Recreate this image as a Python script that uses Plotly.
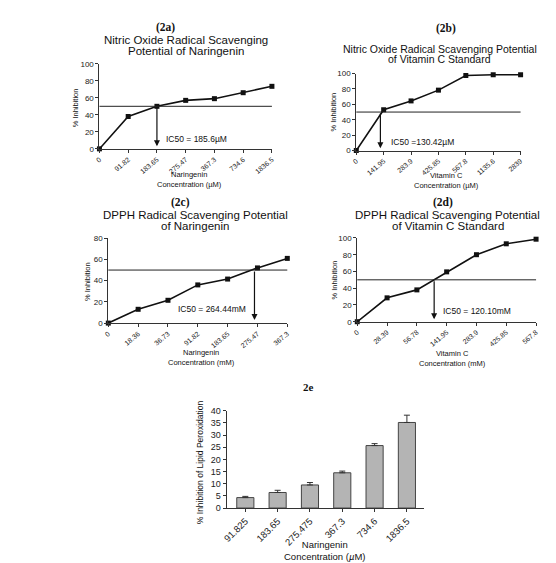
import plotly.graph_objects as go

W, H = 556, 563

# ---------------- data ----------------
no_nar_conc = ["0", "91.82", "183.65", "275.47", "367.3", "734.6", "1836.5"]
no_nar_inh = [0, 38, 50, 57, 59, 66, 73.5]

no_vitc_conc = ["0", "141.95", "283.9", "425.85", "567.8", "1135.6", "2839"]
no_vitc_inh = [0, 53, 64.5, 78.5, 97.5, 98.5, 98.5]

dpph_nar_conc = ["0", "18.36", "36.73", "91.82", "183.65", "275.47", "367.3"]
dpph_nar_inh = [0, 13, 21.5, 36, 41.5, 52, 61]

dpph_vitc_conc = ["0", "28.39", "56.78", "141.95", "283.9", "425.85", "567.8"]
dpph_vitc_inh = [0, 28.5, 38, 59.5, 80, 93, 98.5]

lpo_conc = ["91.825", "183.65", "275.475", "367.3", "734.6", "1836.5"]
lpo_inh = [4.3, 6.4, 9.5, 14.5, 25.7, 35.2]
lpo_err = [0.5, 0.9, 1.0, 0.7, 0.8, 3.0]

# IC50 arrow positions (category index) and labels
ic50_pos = [2.0, 0.88, 4.9, 2.58]
ic50_text = ["IC50 = 185.6µM", "IC50 =130.42µM", "IC50 = 264.44mM", "IC50 = 120.10mM"]

SANS = "Liberation Sans, Arial, sans-serif"
SERIF = "Liberation Serif, Times New Roman, serif"


def px(x):
    return x / W


def py(y):
    return 1 - y / H


def ax_id(letter, n):
    return letter if n == 1 else f"{letter}{n}"


# panel pixel boxes: (x_left, x_right), (y_top, y_bottom)
panels = [
    dict(x=(87.7, 262.7), y=(51.7, 138.3), yr=[0, 100], dt=20),
    dict(x=(348.3, 515.0), y=(61.7, 140.0), yr=[0, 100], dt=20),
    dict(x=(96.7, 278.3), y=(229.3, 315.7), yr=[0, 80], dt=20),
    dict(x=(349.3, 530.7), y=(229.0, 314.3), yr=[0, 100], dt=20),
    dict(x=(216.7, 416.7), y=(405.0, 504.0), yr=[0, 40], dt=5),
]

fig = go.Figure()

line_sets = [
    (no_nar_conc, no_nar_inh),
    (no_vitc_conc, no_vitc_inh),
    (dpph_nar_conc, dpph_nar_inh),
    (dpph_vitc_conc, dpph_vitc_inh),
]

for i, (xs, ys) in enumerate(line_sets):
    n = i + 1
    fig.add_trace(go.Scatter(
        x=xs, y=ys, mode="lines+markers",
        line=dict(color="#111", width=1.6),
        marker=dict(symbol="square", size=5, color="#111"),
        xaxis=ax_id("x", n), yaxis=ax_id("y", n), cliponaxis=False, showlegend=False,
    ))

fig.add_trace(go.Bar(
    x=lpo_conc, y=lpo_inh, width=0.53,
    marker=dict(color="#b4b4b4", line=dict(color="#444", width=1)),
    error_y=dict(type="data", array=lpo_err, arrayminus=[0] * len(lpo_err),
                 symmetric=False, color="#333", thickness=1, width=3),
    xaxis="x5", yaxis="y5", showlegend=False,
))

layout = dict(
    width=W, height=H, margin=dict(l=0, r=0, t=0, b=0),
    paper_bgcolor="white", plot_bgcolor="white",
    font=dict(family=SANS, color="#222"),
    showlegend=False,
)

for i, p in enumerate(panels):
    n = i + 1
    sfx = "" if n == 1 else str(n)
    is_bar = (n == 5)
    layout[f"xaxis{sfx}"] = dict(
        domain=[px(p["x"][0]), px(p["x"][1])],
        anchor=ax_id("y", n), type="category",
        range=[-0.58, 5.52] if is_bar else [0, 6],
        showline=True, linecolor="#333", linewidth=1,
        ticks="outside", ticklen=3, tickcolor="#333",
        tickangle=-45 if is_bar else -40, showgrid=False, zeroline=False,
        tickfont=dict(size=9.5 if is_bar else 7, family=SANS, color="#222"),
        fixedrange=True,
    )
    layout[f"yaxis{sfx}"] = dict(
        domain=[py(p["y"][1]), py(p["y"][0])],
        anchor=ax_id("x", n), range=p["yr"], dtick=p["dt"],
        showline=True, linecolor="#333", linewidth=1,
        ticks="outside", ticklen=3, tickcolor="#333",
        showgrid=False, zeroline=False,
        tickfont=dict(size=9 if is_bar else 8, family=SANS, color="#222"),
        fixedrange=True,
    )

shapes = []
annotations = []

# 50% reference lines and IC50 arrows
for i in range(4):
    n = i + 1
    xa, ya = ax_id("x", n), ax_id("y", n)
    shapes.append(dict(type="line", xref=f"{xa} domain", yref=ya,
                       x0=0, x1=1, y0=50, y1=50,
                       line=dict(color="#222", width=1)))
    annotations.append(dict(
        x=ic50_pos[i], y=3, xref=xa, yref=ya,
        ax=ic50_pos[i], ay=50, axref=xa, ayref=ya,
        showarrow=True, arrowhead=2, arrowsize=1, arrowwidth=1.2,
        arrowcolor="#111", text="",
    ))


def txt(x, y, s, size, family=SANS, bold=False, anchor="center", angle=0):
    if bold:
        s = f"<b>{s}</b>"
    annotations.append(dict(
        x=px(x), y=py(y), xref="paper", yref="paper", text=s,
        showarrow=False, xanchor=anchor, yanchor="middle", textangle=angle,
        font=dict(size=size, family=family, color="#111"), borderpad=0,
    ))


# IC50 labels
txt(154, 128, ic50_text[0], 8.5, anchor="left")
txt(383, 131, ic50_text[1], 8.5, anchor="left")
txt(166, 301, ic50_text[2], 8.5, anchor="left")
txt(435, 303, ic50_text[3], 8.5, anchor="left")

# panel headers
txt(155, 15, "(2a)", 11.5, SERIF, bold=True)
txt(439, 16, "(2b)", 11.5, SERIF, bold=True)
txt(170, 193, "(2c)", 11.5, SERIF, bold=True)
txt(436, 193, "(2d)", 11.5, SERIF, bold=True)
txt(300, 381, "2e", 11, SERIF, bold=True)

# chart titles
txt(176, 27, "Nitric Oxide Radical Scavenging", 11.5)
txt(176, 39, "Potential of Naringenin", 11.5)
txt(433, 36.5, "Nitric Oxide Radical Scavenging Potential", 10.5)
txt(433, 46.5, "of Vitamin C Standard", 10.5)
txt(185, 206, "DPPH Radical Scavenging Potential", 11.5)
txt(185, 217, "of Naringenin", 11.5)
txt(441, 206, "DPPH Radical Scavenging Potential", 11.5)
txt(441, 217, "of Vitamin C Standard", 11.5)

# x-axis titles (two lines each)
txt(179, 169.5, "Naringenin<br>Concentration (µM)", 7.5)
txt(440, 170.5, "Vitamin C<br>Concentration (µM)", 7.5)
txt(191, 350.5, "Naringenin<br>Concentration (mM)", 7.5)
txt(446, 351.5, "Vitamin C<br>Concentration (mM)", 7.5)
txt(317, 547.5, "Naringenin<br>Concentration (<i>µ</i>M)", 9.5)

# y-axis titles
txt(63, 97, "% Inhibition", 7.5, angle=-90)
txt(325, 101, "% Inhibition", 7.5, angle=-90)
txt(75, 273, "% Inhibition", 7.5, angle=-90)
txt(326, 272, "% Inhibition", 7.5, angle=-90)
txt(190, 457, "% Inhibition of Lipid Peroxidation", 8.5, angle=-90)

layout["shapes"] = shapes
layout["annotations"] = annotations
fig.update_layout(**layout)

fig.write_html("out.html")
